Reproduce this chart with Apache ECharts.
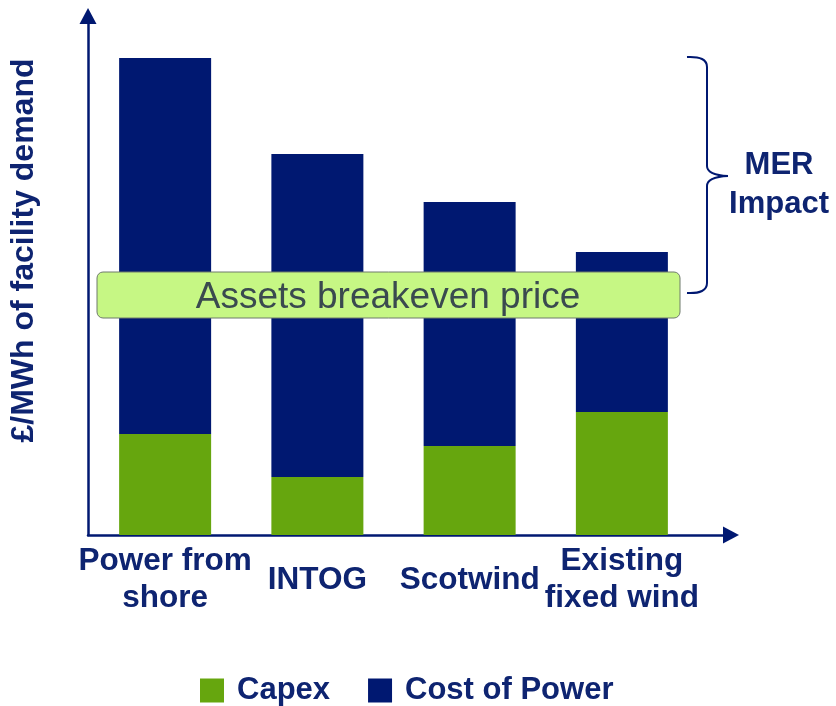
<!DOCTYPE html>
<html>
<head>
<meta charset="utf-8">
<script src="https://cdn.jsdelivr.net/npm/echarts@6/dist/echarts.min.js"></script>
<style>
  html, body { margin: 0; padding: 0; background: #fff; }
  #chart { width: 836px; height: 706px; }
</style>
</head>
<body>
<div id="chart"></div>
<script>
// Cost build-up per option (relative units, no scale shown on the axis)
const categories = ['Power from\nshore', 'INTOG', 'Scotwind', 'Existing\nfixed wind'];
const capex = [101, 58, 89, 123];
const costOfPower = [376, 323, 244, 160];
const seriesNames = ['Capex', 'Cost of Power'];

const NAVY = '#001871';
const GREEN = '#66a60e';
const TEXT = '#0e2471';
const FONT = '"Liberation Sans", Arial, sans-serif';

const chart = echarts.init(document.getElementById('chart'), null, { renderer: 'canvas' });

// curly brace pieces
const braceStyle = { fill: 'none', stroke: NAVY, lineWidth: 2 };
function curve(x1, y1, cx, cy, x2, y2) {
  return { type: 'bezierCurve', z: 100, shape: { x1, y1, cpx1: cx, cpy1: cy, x2, y2 }, style: braceStyle };
}
function seg(x1, y1, x2, y2) {
  return { type: 'line', z: 100, shape: { x1, y1, x2, y2 }, style: braceStyle };
}

chart.setOption({
  animation: false,
  textStyle: { fontFamily: FONT },
  grid: [
    // bars
    { left: 89, right: 138, top: 8, bottom: 171 },
    // arrowed axes
    { left: 86, right: 105, top: 16, bottom: 171 }
  ],
  xAxis: [
    {
      type: 'category', gridIndex: 0, data: categories,
      axisLine: { show: false }, axisTick: { show: false },
      axisLabel: {
        interval: 0, margin: 45, verticalAlign: 'middle',
        color: TEXT, fontWeight: 'bold', fontSize: 31.5, lineHeight: 37, fontFamily: FONT
      }
    },
    {
      type: 'value', gridIndex: 1, min: 0, max: 1,
      axisLine: { show: true, lineStyle: { color: NAVY, width: 2.5 }, symbol: ['none', 'triangle'], symbolSize: [17, 16] },
      axisTick: { show: false }, axisLabel: { show: false }, splitLine: { show: false }
    }
  ],
  yAxis: [
    {
      type: 'value', gridIndex: 0, min: 0, max: 527,
      show: false
    },
    {
      type: 'value', gridIndex: 1, min: 0, max: 1,
      name: '£/MWh of facility demand', nameLocation: 'middle', nameGap: 48, nameRotate: 90,
      nameTextStyle: { color: TEXT, fontWeight: 'bold', fontSize: 32, fontFamily: FONT, padding: [0, 0, 0, 50] },
      axisLine: { show: true, lineStyle: { color: NAVY, width: 2.5 }, symbol: ['none', 'triangle'], symbolSize: [17, 16] },
      axisTick: { show: false }, axisLabel: { show: false }, splitLine: { show: false }
    }
  ],
  legend: {
    data: seriesNames,
    left: 195, top: 670,
    icon: 'rect', itemWidth: 24, itemHeight: 24, itemGap: 38,
    textStyle: { color: TEXT, fontWeight: 'bold', fontSize: 31, fontFamily: FONT, padding: [0, 0, 0, 8] }
  },
  series: [
    {
      name: seriesNames[0], type: 'bar', stack: 'cost', xAxisIndex: 0, yAxisIndex: 0,
      data: capex, barWidth: 92, itemStyle: { color: GREEN }
    },
    {
      name: seriesNames[1], type: 'bar', stack: 'cost', xAxisIndex: 0, yAxisIndex: 0,
      data: costOfPower, barWidth: 92, itemStyle: { color: NAVY }
    }
  ],
  graphic: [
    {
      type: 'rect', z: 100,
      shape: { x: 97, y: 272, width: 583, height: 46, r: 6 },
      style: { fill: '#c6f784', stroke: '#6f7a6c', lineWidth: 1 }
    },
    {
      type: 'text', z: 101, x: 388, y: 298,
      style: {
        text: 'Assets breakeven price', fill: '#3a4a4f',
        font: 'normal 37px ' + FONT, align: 'center', verticalAlign: 'middle'
      }
    },
    curve(687, 57, 707, 56, 707, 67),
    seg(707, 67, 707, 166),
    curve(707, 166, 707, 175, 728, 176),
    curve(728, 176, 707, 177, 707, 186),
    seg(707, 186, 707, 283),
    curve(707, 283, 707, 294, 687, 293),
    {
      type: 'text', z: 101, x: 779, y: 185,
      style: {
        text: 'MER\nImpact', fill: TEXT, font: 'bold 31px ' + FONT,
        align: 'center', verticalAlign: 'middle', lineHeight: 39
      }
    }
  ]
});
</script>
</body>
</html>
